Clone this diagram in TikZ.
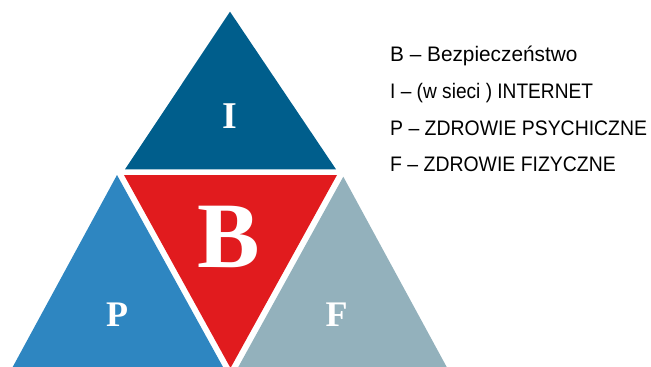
\documentclass[tikz,border=0pt]{standalone}
\usepackage{fontspec}
\setmainfont{Liberation Serif}
\newfontfamily\legendfont{Liberation Sans}
\definecolor{topblue}{RGB}{0,94,140}
\definecolor{midred}{RGB}{225,27,30}
\definecolor{sideblue}{RGB}{46,134,193}
\definecolor{sidegray}{RGB}{147,177,188}
\newcommand{\legline}[2]{\scalebox{#1}[1]{#2}}
\begin{document}
\begin{tikzpicture}[x=1pt,y=-1pt,
  letter/.style={text=white,font=\bfseries\fontsize{#1}{#1}\selectfont,anchor=base,inner sep=0pt},
  legend/.style={anchor=base west,inner sep=0pt,font=\legendfont\fontsize{21}{21}\selectfont}]
  \useasboundingbox (0,0) rectangle (651,367);
  % triangle corners
  \coordinate (iTop) at (230,11.7);
  \coordinate (iL) at (125,169.3);
  \coordinate (iR) at (336,169.3);
  \coordinate (bL) at (124,175);
  \coordinate (bR) at (337,175);
  \coordinate (bBot) at (230.5,368);
  \coordinate (pTop) at (117,175);
  \coordinate (pL) at (12.7,367);
  \coordinate (pR) at (223,367);
  \coordinate (fTop) at (343.3,176.7);
  \coordinate (fL) at (238.3,367);
  \coordinate (fR) at (446.7,367);
  % the four triangles
  \fill[topblue] (iTop) -- (iL) -- (iR) -- cycle;
  \fill[midred] (bL) -- (bR) -- (bBot) -- cycle;
  \fill[sideblue] (pTop) -- (pL) -- (pR) -- cycle;
  \fill[sidegray] (fTop) -- (fL) -- (fR) -- cycle;
  % letters
  \node[letter=37.8] (lI) at (230,128) {I};
  \node[letter=93.7] (lB) at (229,267) {B};
  \node[letter=36] (lP) at (117,326) {P};
  \node[letter=36] (lF) at (336.5,326) {F};
  % legend
  \node[legend] (legB) at (390,61.7) {\legline{0.99}{B – Bezpieczeństwo}};
  \node[legend] (legI) at (390,98.3) {\legline{0.91}{I – (w sieci ) INTERNET}};
  \node[legend] (legP) at (390,135) {\legline{0.925}{P – ZDROWIE PSYCHICZNE}};
  \node[legend] (legF) at (390,171.7) {\legline{0.925}{F – ZDROWIE FIZYCZNE}};
\end{tikzpicture}
\end{document}
